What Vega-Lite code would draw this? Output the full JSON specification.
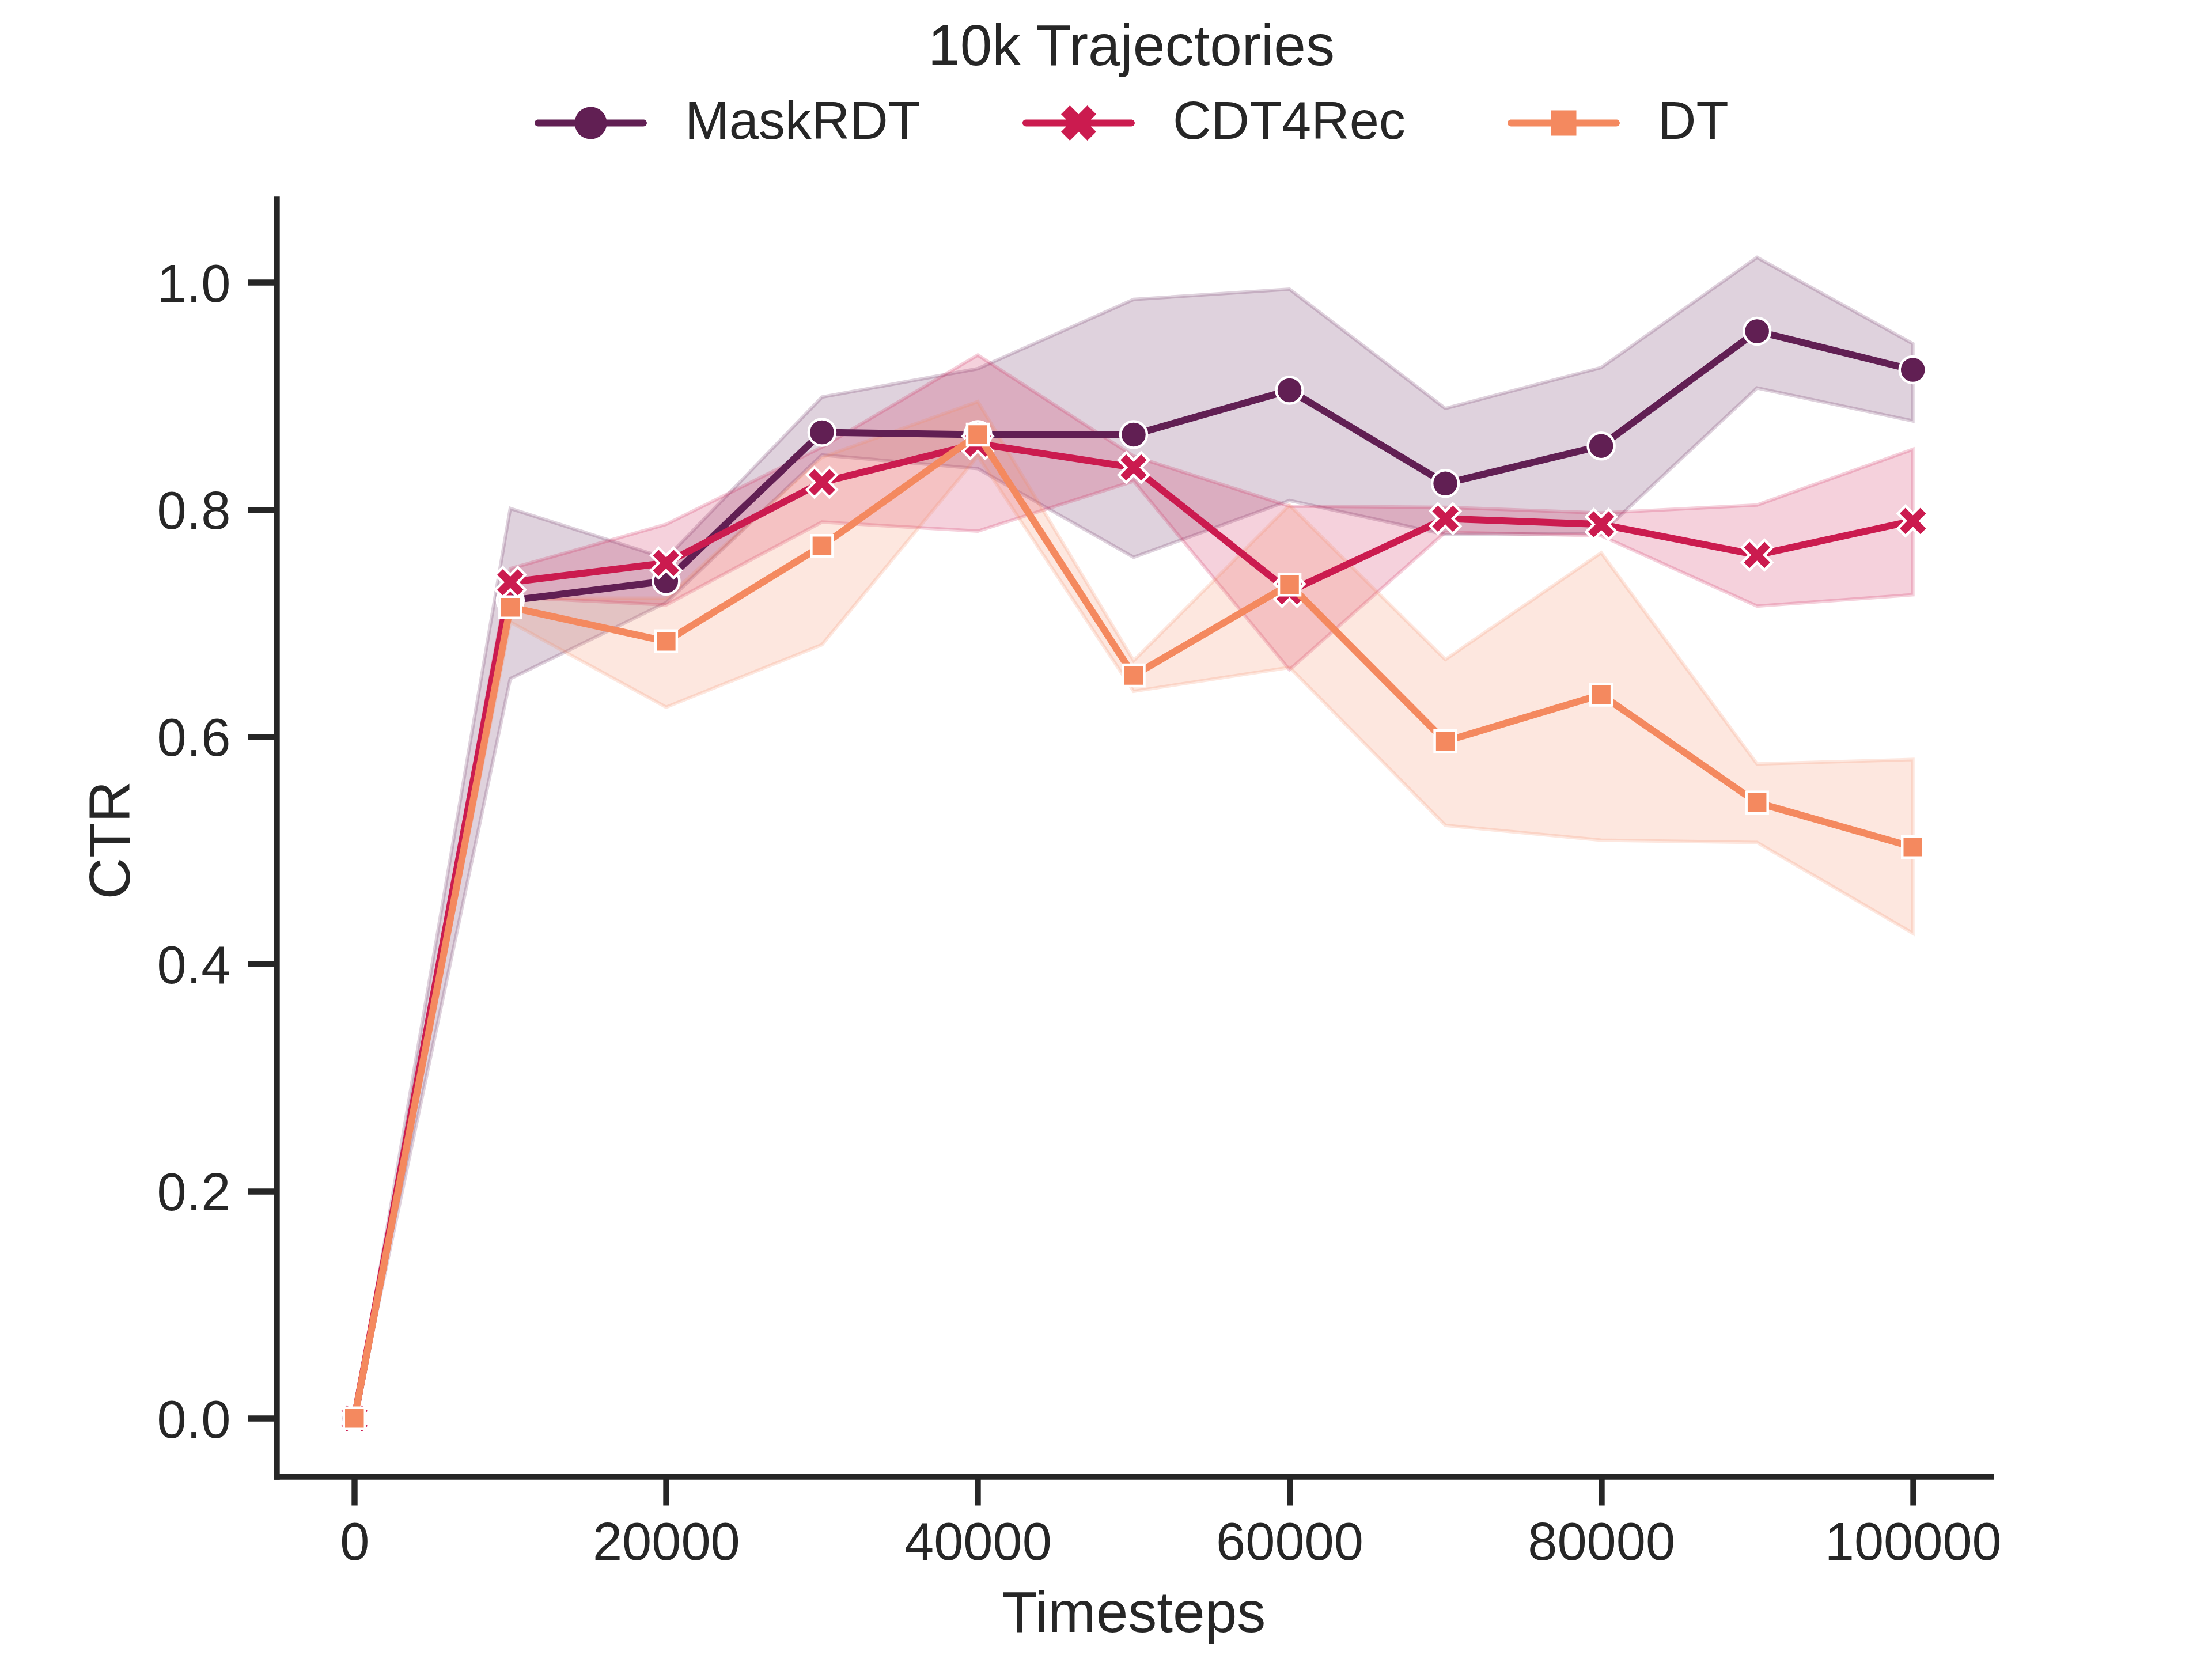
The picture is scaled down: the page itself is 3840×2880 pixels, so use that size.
{
  "$schema": "https://vega.github.io/schema/vega-lite/v6.json",
  "autosize": "none",
  "width": 2976,
  "height": 2217,
  "padding": {"left": 480, "top": 346, "right": 384, "bottom": 317},
  "background": "white",
  "config": {
    "font": "Liberation Sans",
    "view": {"stroke": null},
    "axis": {
      "domainColor": "#262626", "domainWidth": 10.4, "domainCap": "square",
      "tickColor": "#262626", "tickWidth": 10.4, "tickSize": 50, "tickCap": "butt",
      "labelColor": "#262626", "labelFontSize": 92, "labelFont": "Liberation Sans", "labelLimit": 2000,
      "titleColor": "#262626", "titleFontSize": 100, "titleFontWeight": "normal", "titleFont": "Liberation Sans",
      "grid": false, "labelFlush": false, "labelOverlap": false
    }
  },
  "data": {"values": [
    {"model": "MaskRDT", "t": 0, "ctr": 0, "lo": 0, "hi": 0},
    {"model": "MaskRDT", "t": 10000, "ctr": 0.720, "lo": 0.651, "hi": 0.801},
    {"model": "MaskRDT", "t": 20000, "ctr": 0.737, "lo": 0.718, "hi": 0.757},
    {"model": "MaskRDT", "t": 30000, "ctr": 0.868, "lo": 0.848, "hi": 0.899},
    {"model": "MaskRDT", "t": 40000, "ctr": 0.866, "lo": 0.836, "hi": 0.924},
    {"model": "MaskRDT", "t": 50000, "ctr": 0.866, "lo": 0.758, "hi": 0.985},
    {"model": "MaskRDT", "t": 60000, "ctr": 0.905, "lo": 0.808, "hi": 0.994},
    {"model": "MaskRDT", "t": 70000, "ctr": 0.823, "lo": 0.778, "hi": 0.889},
    {"model": "MaskRDT", "t": 80000, "ctr": 0.856, "lo": 0.779, "hi": 0.925},
    {"model": "MaskRDT", "t": 90000, "ctr": 0.957, "lo": 0.907, "hi": 1.022},
    {"model": "MaskRDT", "t": 100000, "ctr": 0.923, "lo": 0.878, "hi": 0.946},
    {"model": "CDT4Rec", "t": 0, "ctr": 0, "lo": 0, "hi": 0},
    {"model": "CDT4Rec", "t": 10000, "ctr": 0.736, "lo": 0.723, "hi": 0.748},
    {"model": "CDT4Rec", "t": 20000, "ctr": 0.753, "lo": 0.716, "hi": 0.787},
    {"model": "CDT4Rec", "t": 30000, "ctr": 0.824, "lo": 0.789, "hi": 0.855},
    {"model": "CDT4Rec", "t": 40000, "ctr": 0.858, "lo": 0.781, "hi": 0.936},
    {"model": "CDT4Rec", "t": 50000, "ctr": 0.837, "lo": 0.825, "hi": 0.847},
    {"model": "CDT4Rec", "t": 60000, "ctr": 0.728, "lo": 0.659, "hi": 0.803},
    {"model": "CDT4Rec", "t": 70000, "ctr": 0.792, "lo": 0.780, "hi": 0.802},
    {"model": "CDT4Rec", "t": 80000, "ctr": 0.787, "lo": 0.777, "hi": 0.797},
    {"model": "CDT4Rec", "t": 90000, "ctr": 0.760, "lo": 0.715, "hi": 0.804},
    {"model": "CDT4Rec", "t": 100000, "ctr": 0.790, "lo": 0.725, "hi": 0.853},
    {"model": "DT", "t": 0, "ctr": 0, "lo": 0, "hi": 0},
    {"model": "DT", "t": 10000, "ctr": 0.714, "lo": 0.701, "hi": 0.722},
    {"model": "DT", "t": 20000, "ctr": 0.684, "lo": 0.626, "hi": 0.722},
    {"model": "DT", "t": 30000, "ctr": 0.768, "lo": 0.681, "hi": 0.846},
    {"model": "DT", "t": 40000, "ctr": 0.866, "lo": 0.847, "hi": 0.895},
    {"model": "DT", "t": 50000, "ctr": 0.654, "lo": 0.640, "hi": 0.667},
    {"model": "DT", "t": 60000, "ctr": 0.734, "lo": 0.661, "hi": 0.804},
    {"model": "DT", "t": 70000, "ctr": 0.596, "lo": 0.522, "hi": 0.668},
    {"model": "DT", "t": 80000, "ctr": 0.637, "lo": 0.509, "hi": 0.762},
    {"model": "DT", "t": 90000, "ctr": 0.542, "lo": 0.507, "hi": 0.576},
    {"model": "DT", "t": 100000, "ctr": 0.503, "lo": 0.427, "hi": 0.580}
  ]},
  "encoding": {
    "x": {
      "field": "t", "type": "quantitative",
      "scale": {"domain": [-5000, 105000], "nice": false, "zero": false},
      "axis": {"title": "Timesteps", "values": [0, 20000, 40000, 60000, 80000, 100000], "format": "d", "labelPadding": 21, "titleBaseline": "alphabetic", "titleY": 269}
    },
    "y": {
      "field": "ctr", "type": "quantitative",
      "scale": {"domain": [-0.0511, 1.0731], "nice": false, "zero": false},
      "axis": {"title": "CTR", "values": [0, 0.2, 0.4, 0.6, 0.8, 1.0], "format": ".1f", "labelPadding": 30, "labelBaseline": "alphabetic", "labelOffset": 33, "titleBaseline": "alphabetic", "titleX": -256, "titleY": 1112, "titleAngle": -90}
    }
  },
  "layer": [
    {
      "transform": [{"filter": "datum.model === 'MaskRDT'"}],
      "mark": {"type": "area", "color": "#611f53", "stroke": "#611f53", "fillOpacity": 0.2, "strokeOpacity": 0.2, "strokeWidth": 6},
      "encoding": {"y": {"field": "lo", "type": "quantitative"}, "y2": {"field": "hi"}}
    },
    {
      "transform": [{"filter": "datum.model === 'CDT4Rec'"}],
      "mark": {"type": "area", "color": "#cb1b4f", "stroke": "#cb1b4f", "fillOpacity": 0.2, "strokeOpacity": 0.2, "strokeWidth": 6},
      "encoding": {"y": {"field": "lo", "type": "quantitative"}, "y2": {"field": "hi"}}
    },
    {
      "transform": [{"filter": "datum.model === 'DT'"}],
      "mark": {"type": "area", "color": "#f4895f", "stroke": "#f4895f", "fillOpacity": 0.2, "strokeOpacity": 0.2, "strokeWidth": 6},
      "encoding": {"y": {"field": "lo", "type": "quantitative"}, "y2": {"field": "hi"}}
    },
    {
      "transform": [{"filter": "datum.model === 'MaskRDT'"}],
      "mark": {"type": "line", "color": "#611f53", "strokeWidth": 12, "strokeJoin": "round"},
      "encoding": {}
    },
    {
      "transform": [{"filter": "datum.model === 'MaskRDT'"}],
      "mark": {"type": "point", "filled": true, "opacity": 1, "fill": "#611f53", "shape": "circle", "size": 2116, "stroke": "white", "strokeWidth": 4.5},
      "encoding": {}
    },
    {
      "transform": [{"filter": "datum.model === 'CDT4Rec'"}],
      "mark": {"type": "line", "color": "#cb1b4f", "strokeWidth": 12, "strokeJoin": "round"},
      "encoding": {}
    },
    {
      "transform": [{"filter": "datum.model === 'CDT4Rec'"}],
      "mark": {"type": "point", "filled": true, "opacity": 1, "fill": "#cb1b4f", "shape": "M-0.5,-1L0,-0.5L0.5,-1L1,-0.5L0.5,0L1,0.5L0.5,1L0,0.5L-0.5,1L-1,0.5L-0.5,0L-1,-0.5Z", "size": 2704, "stroke": "white", "strokeWidth": 4.5},
      "encoding": {}
    },
    {
      "transform": [{"filter": "datum.model === 'DT'"}],
      "mark": {"type": "line", "color": "#f4895f", "strokeWidth": 12, "strokeJoin": "round"},
      "encoding": {}
    },
    {
      "transform": [{"filter": "datum.model === 'DT'"}],
      "mark": {"type": "point", "filled": true, "opacity": 1, "fill": "#f4895f", "shape": "square", "size": 1369, "stroke": "white", "strokeWidth": 4.5},
      "encoding": {}
    },
    {
      "mark": {"type": "point", "filled": true, "size": 0, "strokeWidth": 0},
      "encoding": {
        "color": {
          "field": "model", "type": "nominal",
          "scale": {"domain": ["MaskRDT", "CDT4Rec", "DT"], "range": ["#611f53", "#cb1b4f", "#f4895f"]},
          "legend": {"title": "10k Trajectories", "orient": "none", "legendX": 448, "legendY": -312.3, "direction": "horizontal", "columns": 3, "symbolSize": 38025, "symbolStrokeWidth": 0, "symbolOpacity": 1, "labelFontSize": 92, "labelColor": "#262626", "labelFont": "Liberation Sans", "labelOffset": 66, "labelLimit": 2000, "columnPadding": 177, "titleFontSize": 100, "titleFontWeight": "normal", "titleColor": "#262626", "titleFont": "Liberation Sans", "titleAnchor": "middle", "titleOrient": "top", "titlePadding": -18, "titleLimit": 3000, "padding": 0}
        },
        "shape": {
          "field": "model", "type": "nominal",
          "scale": {"domain": ["MaskRDT", "CDT4Rec", "DT"], "range": [
            "M-0.938,-0.0615H0.938A0.0615,0.0615 0 0,1 0.938,0.0615H-0.938A0.0615,0.0615 0 0,1 -0.938,-0.0615ZM-0.287,0A0.287,0.287 0 1,1 0.287,0A0.287,0.287 0 1,1 -0.287,0Z",
            "M-0.938,-0.0615H0.938A0.0615,0.0615 0 0,1 0.938,0.0615H-0.938A0.0615,0.0615 0 0,1 -0.938,-0.0615ZM-0.156,-0.313L0,-0.156L0.156,-0.313L0.313,-0.156L0.156,0L0.313,0.156L0.156,0.313L0,0.156L-0.156,0.313L-0.313,0.156L-0.156,0L-0.313,-0.156Z",
            "M-0.938,-0.0615H0.938A0.0615,0.0615 0 0,1 0.938,0.0615H-0.938A0.0615,0.0615 0 0,1 -0.938,-0.0615ZM-0.2256,-0.2256H0.2256V0.2256H-0.2256Z"
          ]},
          "legend": {"title": "10k Trajectories", "orient": "none", "legendX": 448, "legendY": -312.3, "direction": "horizontal", "columns": 3, "symbolSize": 38025, "symbolStrokeWidth": 0, "symbolOpacity": 1, "labelFontSize": 92, "labelColor": "#262626", "labelFont": "Liberation Sans", "labelOffset": 66, "labelLimit": 2000, "columnPadding": 177, "titleFontSize": 100, "titleFontWeight": "normal", "titleColor": "#262626", "titleFont": "Liberation Sans", "titleAnchor": "middle", "titleOrient": "top", "titlePadding": -18, "titleLimit": 3000, "padding": 0}
        }
      }
    }
  ]
}
